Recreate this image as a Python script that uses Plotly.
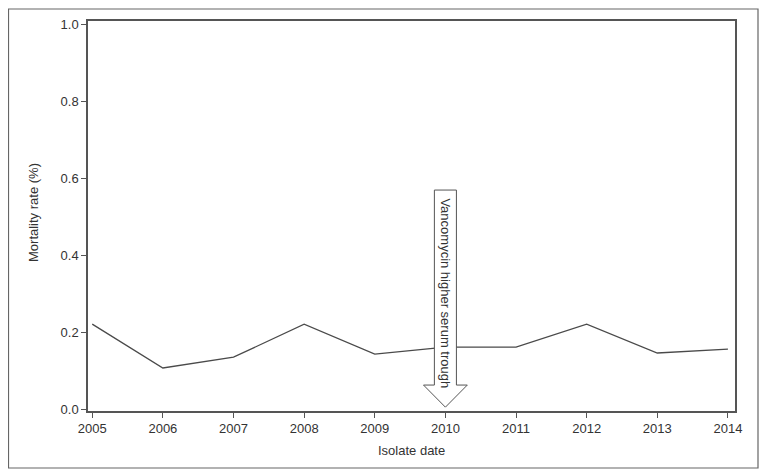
import plotly.graph_objects as go

years = [2005, 2006, 2007, 2008, 2009, 2010, 2011, 2012, 2013, 2014]
mortality = [0.221, 0.107, 0.135, 0.221, 0.143, 0.161, 0.161, 0.221, 0.146, 0.156]
y_ticks = [0.0, 0.2, 0.4, 0.6, 0.8, 1.0]
arrow_year = 2010
arrow_label = "Vancomycin higher serum trough"

fig = go.Figure()
fig.add_trace(go.Scatter(x=years, y=mortality, mode="lines",
                         line=dict(color="#4a4a4a", width=1.3), hoverinfo="skip"))

# arrow marking the dosing change (shaft + head, in data units)
hw, hh = 0.156, 0.31
top, neck, tip = 0.570, 0.0625, 0.005
path = (f"M {arrow_year-hw},{top} L {arrow_year+hw},{top} L {arrow_year+hw},{neck} "
        f"L {arrow_year+hh},{neck} L {arrow_year},{tip} L {arrow_year-hh},{neck} "
        f"L {arrow_year-hw},{neck} Z")
fig.add_shape(type="path", path=path, xref="x", yref="y",
              line=dict(color="#555555", width=1), fillcolor="white")
fig.add_annotation(x=arrow_year, y=0.30, xref="x", yref="y",
                   text=arrow_label, textangle=90, showarrow=False,
                   xanchor="center", yanchor="middle",
                   font=dict(family="Liberation Sans, Arial", size=13, color="#333333"))

# page body adds an 8px offset, so the figure is laid out 8px smaller
L, T = 80, 13
W, H = 647, 390
fig.add_shape(type="rect", xref="paper", yref="paper",
              x0=(0.5 - L) / W, x1=(750 - L) / W,
              y0=(T + H - 460) / H, y1=(T + H - 1) / H,
              line=dict(color="#666666", width=1.2), layer="below")

axis_font = dict(family="Liberation Sans, Arial", size=13, color="#333333")
fig.add_annotation(x=(25 - L) / W, y=(T + H - 205) / H, xref="paper", yref="paper",
                   text="Mortality rate (%)", textangle=-90, showarrow=False,
                   xanchor="center", yanchor="middle", font=axis_font)
fig.add_annotation(x=(403 - L) / W, y=(T + H - 442) / H, xref="paper", yref="paper",
                   text="Isolate date", showarrow=False,
                   xanchor="center", yanchor="middle", font=axis_font)

fig.update_xaxes(range=[2004.94, 2014.1], tickmode="array", tickvals=years,
                 ticks="outside", ticklen=5, tickcolor="#555555",
                 showline=True, linecolor="#555555", linewidth=1.5, mirror=True,
                 showgrid=False, zeroline=False, tickfont=axis_font, automargin=False)
fig.update_yaxes(range=[-0.005, 1.01], tickmode="array", tickvals=y_ticks,
                 tickformat=".1f", ticks="outside", ticklen=5, tickcolor="#555555",
                 showline=True, linecolor="#555555", linewidth=1.5, mirror=True,
                 showgrid=False, zeroline=False, tickfont=axis_font, automargin=False)

fig.update_layout(width=759, height=467, showlegend=False,
                  margin=dict(l=L, r=759 - L - W, t=T, b=467 - T - H),
                  plot_bgcolor="white", paper_bgcolor="white")

fig.write_html("out.html")
